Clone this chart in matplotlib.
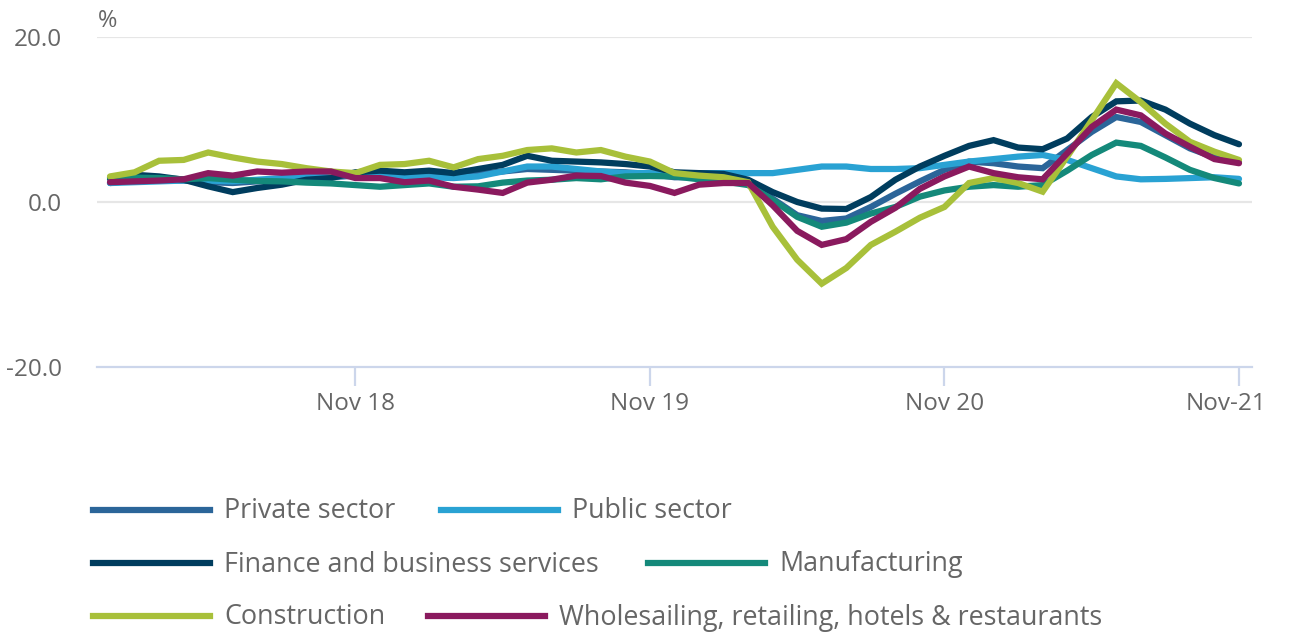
import numpy as np
import matplotlib.pyplot as plt
from matplotlib.lines import Line2D
from matplotlib.transforms import ScaledTranslation

plt.rcParams["font.family"] = ["Open Sans", "DejaVu Sans"]

# monthly, Jan 2018 .. Nov 2021
months = np.arange(47)
tick_pos = [10, 22, 34, 46]
tick_labels = ["Nov 18", "Nov 19", "Nov 20", "Nov-21"]
y_ticks = [-20, 0, 20]

private_sector = [2.3, 2.6, 2.7, 2.6, 2.4, 2.3, 2.5, 2.7, 2.9, 3.0, 3.2, 3.3,
                  3.3, 3.4, 3.2, 3.4, 3.7, 4.0, 3.9, 3.8, 3.7, 3.6, 3.4, 3.0,
                  3.0, 2.9, 2.5, 0.4, -1.6, -2.3, -2.0, -0.6, 1.0, 2.5, 3.9, 4.9,
                  4.7, 4.3, 4.1, 6.3, 8.5, 10.3, 9.7, 8.1, 6.5, 5.4, 4.9]
public_sector = [2.3, 2.4, 2.5, 2.6, 2.6, 2.5, 2.7, 2.9, 3.3, 3.3, 3.2, 3.1,
                 3.0, 3.0, 2.9, 3.1, 3.7, 4.3, 4.3, 4.0, 3.7, 3.5, 3.5, 3.3,
                 3.5, 3.5, 3.5, 3.5, 3.9, 4.3, 4.3, 4.0, 4.0, 4.1, 4.5, 4.9,
                 5.2, 5.5, 5.7, 5.1, 4.1, 3.1, 2.75, 2.8, 2.9, 3.0, 2.8]
finance = [2.8, 3.3, 3.1, 2.7, 1.9, 1.2, 1.7, 2.1, 2.7, 2.9, 3.6, 3.8,
           3.6, 3.8, 3.5, 4.0, 4.5, 5.6, 5.0, 4.9, 4.8, 4.6, 4.3, 3.6,
           3.5, 3.4, 2.7, 1.2, 0.0, -0.8, -0.85, 0.6, 2.7, 4.3, 5.6, 6.8,
           7.5, 6.6, 6.4, 7.7, 10.3, 12.2, 12.3, 11.2, 9.5, 8.1, 7.0]
manufacturing = [2.95, 2.95, 2.9, 2.75, 2.9, 2.7, 2.55, 2.5, 2.35, 2.25, 2.05, 1.85,
                 2.05, 2.25, 1.85, 1.9, 2.35, 2.6, 2.7, 2.9, 2.75, 3.1, 3.15, 3.1,
                 2.75, 2.5, 2.05, 0.25, -1.8, -3.0, -2.5, -1.4, -0.6, 0.65, 1.4, 1.85,
                 2.05, 1.85, 2.05, 3.8, 5.7, 7.2, 6.8, 5.4, 3.9, 2.9, 2.25]
construction = [3.1, 3.6, 5.0, 5.1, 6.0, 5.4, 4.9, 4.6, 4.1, 3.7, 3.5, 4.5,
                4.6, 5.0, 4.2, 5.2, 5.6, 6.3, 6.5, 6.0, 6.3, 5.5, 4.9, 3.5,
                3.2, 3.0, 2.4, -3.0, -7.0, -9.9, -8.0, -5.2, -3.6, -1.9, -0.6, 2.3,
                2.9, 2.3, 1.25, 5.5, 9.9, 14.4, 12.1, 9.5, 7.3, 6.1, 5.1]
wholesale = [2.4, 2.5, 2.6, 2.75, 3.5, 3.2, 3.7, 3.55, 3.7, 3.7, 2.9, 2.9,
             2.4, 2.6, 1.85, 1.5, 1.1, 2.35, 2.7, 3.2, 3.15, 2.35, 1.95, 1.1,
             2.1, 2.3, 2.3, -0.4, -3.5, -5.2, -4.5, -2.4, -0.7, 1.6, 3.1, 4.3,
             3.5, 3.0, 2.75, 5.9, 9.1, 11.2, 10.5, 8.3, 6.7, 5.2, 4.7]

series = [
    ("Private sector", private_sector, "#2b6599"),
    ("Public sector", public_sector, "#29a2d3"),
    ("Finance and business services", finance, "#003d5e"),
    ("Manufacturing", manufacturing, "#14897a"),
    ("Construction", construction, "#a8c03a"),
    ("Wholesailing, retailing, hotels & restaurants", wholesale, "#8a1a5e"),
]

W, H = 1289, 635
fig = plt.figure(figsize=(W / 100, H / 100), dpi=100)
ax = fig.add_axes([97 / W, (H - 367) / H, (1252 - 97) / W, 330 / H])

for name, vals, col in series:
    ax.plot(months, vals, color=col, lw=4.5, solid_joinstyle="miter",
            solid_capstyle="round", label=name)

ax.set_xlim(-0.53, 46.53)
ax.set_ylim(-20, 20)
ax.set_yticks(y_ticks)
ax.set_yticklabels([f"{v:.1f}" for v in y_ticks])
ax.set_xticks(tick_pos)
ax.set_xticklabels(tick_labels)

for v in [0, 20]:
    ax.axhline(v, color="#e6e6e6", lw=1.6, zorder=0)

for s in ["top", "right", "left"]:
    ax.spines[s].set_visible(False)
ax.spines["bottom"].set_color("#ccd6eb")
ax.spines["bottom"].set_linewidth(1.6)

ax.tick_params(axis="y", length=0, pad=25, labelsize=17.5, labelcolor="#666666")
ax.tick_params(axis="x", length=14, width=1.6, color="#ccd6eb", pad=4,
               labelsize=17.5, labelcolor="#666666")

last = ax.get_xticklabels()[-1]
last.set_transform(last.get_transform() + ScaledTranslation(-0.13, 0, fig.dpi_scale_trans))

fig.text(98 / W, 1 - 21 / H, "%", color="#666666", fontsize=17, va="center", ha="left")

# legend, laid out in rows like the original
legend_rows = [
    (510, [(93, 0), (441, 1)]),
    (563, [(93, 2), (648, 3)]),
    (616, [(93, 4), (428, 5)]),
]
for y, items in legend_rows:
    for x0, idx in items:
        name, _, col = series[idx]
        fy = 1 - y / H
        fig.add_artist(Line2D([x0 / W, (x0 + 117) / W], [fy, fy], color=col, lw=4.5,
                              transform=fig.transFigure))
        fig.text((x0 + 131) / W, fy - 1.5 / H, name, color="#666666", fontsize=19.4,
                 va="center", ha="left")

fig.savefig("out.png", dpi=100)
